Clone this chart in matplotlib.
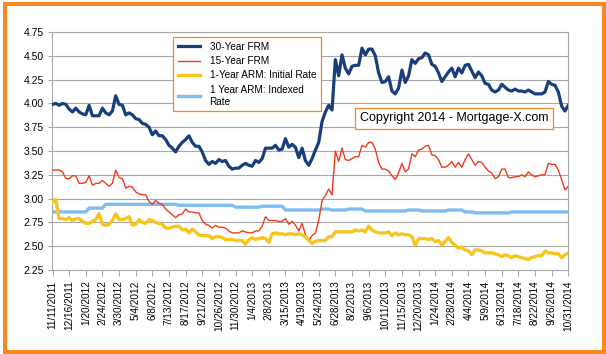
import numpy as np
import pandas as pd
import matplotlib
matplotlib.use('Agg')
import matplotlib.pyplot as plt
from matplotlib.patches import Rectangle

plt.rcParams['font.family'] = ['Liberation Sans', 'DejaVu Sans']

# weekly survey dates (Fridays), 11/11/2011 .. 10/31/2014
dates = pd.date_range('2011-11-11', '2014-10-31', freq='7D')

frm30 = [3.99, 4.00, 3.98, 4.00, 3.99, 3.94, 3.91, 3.95, 3.91, 3.89,
         3.88, 3.98, 3.87, 3.87, 3.87, 3.95, 3.90, 3.88, 3.92, 4.08,
         3.99, 3.98, 3.88, 3.90, 3.88, 3.84, 3.83, 3.79, 3.78, 3.75,
         3.67, 3.71, 3.66, 3.66, 3.62, 3.56, 3.53, 3.49, 3.55, 3.59,
         3.62, 3.66, 3.59, 3.55, 3.55, 3.49, 3.40, 3.36, 3.39, 3.37,
         3.41, 3.39, 3.40, 3.34, 3.31, 3.32, 3.32, 3.35, 3.37, 3.35,
         3.34, 3.40, 3.38, 3.42, 3.53, 3.53, 3.53, 3.56, 3.51, 3.52,
         3.63, 3.54, 3.57, 3.54, 3.43, 3.53, 3.40, 3.35, 3.42, 3.51,
         3.59, 3.81, 3.91, 3.98, 3.93, 4.46, 4.29, 4.51, 4.37, 4.31,
         4.39, 4.40, 4.40, 4.58, 4.51, 4.57, 4.57, 4.50, 4.32, 4.22,
         4.23, 4.28, 4.13, 4.10, 4.16, 4.35, 4.22, 4.29, 4.46, 4.42,
         4.47, 4.48, 4.53, 4.51, 4.41, 4.39, 4.32, 4.23, 4.28, 4.33,
         4.37, 4.28, 4.37, 4.32, 4.40, 4.41, 4.34, 4.27, 4.33, 4.29,
         4.21, 4.20, 4.14, 4.12, 4.14, 4.20, 4.17, 4.14, 4.13, 4.15,
         4.13, 4.13, 4.12, 4.14, 4.12, 4.10, 4.10, 4.10, 4.12, 4.23,
         4.20, 4.19, 4.12, 3.97, 3.92, 3.98]

frm15 = [3.30, 3.30, 3.30, 3.28, 3.21, 3.21, 3.24, 3.24, 3.16, 3.16,
         3.17, 3.24, 3.14, 3.16, 3.16, 3.19, 3.16, 3.13, 3.16, 3.30,
         3.22, 3.21, 3.11, 3.13, 3.12, 3.07, 3.05, 3.04, 3.04, 2.97,
         2.94, 2.98, 2.95, 2.94, 2.89, 2.86, 2.83, 2.80, 2.83, 2.84,
         2.89, 2.86, 2.86, 2.85, 2.85, 2.77, 2.73, 2.72, 2.69, 2.72,
         2.70, 2.70, 2.69, 2.66, 2.64, 2.64, 2.64, 2.66, 2.65, 2.64,
         2.64, 2.66, 2.66, 2.71, 2.81, 2.77, 2.77, 2.77, 2.76, 2.76,
         2.79, 2.73, 2.76, 2.72, 2.66, 2.74, 2.62, 2.56, 2.61, 2.64,
         2.77, 2.98, 3.03, 3.10, 3.04, 3.50, 3.39, 3.53, 3.41, 3.40,
         3.42, 3.44, 3.44, 3.56, 3.54, 3.59, 3.59, 3.52, 3.38, 3.31,
         3.31, 3.29, 3.24, 3.20, 3.27, 3.37, 3.28, 3.31, 3.47, 3.44,
         3.51, 3.52, 3.55, 3.56, 3.46, 3.45, 3.41, 3.33, 3.33, 3.35,
         3.39, 3.33, 3.38, 3.33, 3.41, 3.47, 3.41, 3.35, 3.39, 3.38,
         3.33, 3.29, 3.27, 3.21, 3.23, 3.31, 3.31, 3.22, 3.22, 3.23,
         3.23, 3.25, 3.23, 3.28, 3.25, 3.23, 3.24, 3.25, 3.25, 3.37,
         3.36, 3.36, 3.30, 3.20, 3.09, 3.13]

arm_initial = [2.96, 2.99, 2.79, 2.79, 2.78, 2.80, 2.77, 2.79, 2.79, 2.76,
               2.74, 2.74, 2.76, 2.78, 2.84, 2.73, 2.72, 2.73, 2.77, 2.84,
               2.78, 2.78, 2.79, 2.81, 2.72, 2.73, 2.78, 2.75, 2.74, 2.78,
               2.77, 2.75, 2.74, 2.73, 2.69, 2.69, 2.70, 2.71, 2.71, 2.67,
               2.68, 2.64, 2.68, 2.65, 2.62, 2.61, 2.61, 2.61, 2.58, 2.60,
               2.60, 2.59, 2.57, 2.57, 2.57, 2.56, 2.56, 2.56, 2.52, 2.57,
               2.59, 2.57, 2.58, 2.59, 2.58, 2.54, 2.63, 2.64, 2.63, 2.63,
               2.62, 2.63, 2.63, 2.62, 2.63, 2.62, 2.60, 2.56, 2.53, 2.55,
               2.56, 2.56, 2.56, 2.60, 2.60, 2.65, 2.65, 2.65, 2.65, 2.65,
               2.65, 2.67, 2.66, 2.67, 2.65, 2.71, 2.67, 2.65, 2.64, 2.64,
               2.64, 2.65, 2.61, 2.64, 2.62, 2.63, 2.62, 2.62, 2.60, 2.51,
               2.58, 2.58, 2.58, 2.57, 2.58, 2.55, 2.56, 2.51, 2.55, 2.59,
               2.54, 2.51, 2.48, 2.49, 2.46, 2.45, 2.41, 2.46, 2.46, 2.45,
               2.43, 2.43, 2.43, 2.42, 2.41, 2.39, 2.41, 2.40, 2.38, 2.40,
               2.39, 2.38, 2.37, 2.36, 2.38, 2.39, 2.40, 2.40, 2.45, 2.43,
               2.43, 2.42, 2.42, 2.38, 2.41, 2.43]

arm_indexed = [2.86, 2.86, 2.86, 2.86, 2.86, 2.86, 2.86, 2.86, 2.86, 2.86,
               2.86, 2.90, 2.90, 2.90, 2.90, 2.90, 2.94, 2.94, 2.94, 2.94,
               2.94, 2.94, 2.94, 2.94, 2.94, 2.94, 2.94, 2.94, 2.94, 2.94,
               2.94, 2.94, 2.94, 2.94, 2.94, 2.94, 2.94, 2.94, 2.93, 2.93,
               2.93, 2.93, 2.93, 2.93, 2.93, 2.93, 2.93, 2.93, 2.93, 2.93,
               2.93, 2.93, 2.93, 2.93, 2.93, 2.91, 2.91, 2.91, 2.91, 2.91,
               2.91, 2.91, 2.91, 2.92, 2.92, 2.92, 2.92, 2.92, 2.92, 2.92,
               2.88, 2.88, 2.88, 2.88, 2.88, 2.88, 2.88, 2.88, 2.88, 2.88,
               2.88, 2.89, 2.89, 2.89, 2.88, 2.88, 2.88, 2.88, 2.88, 2.89,
               2.89, 2.89, 2.89, 2.89, 2.87, 2.87, 2.87, 2.87, 2.87, 2.87,
               2.87, 2.87, 2.87, 2.87, 2.87, 2.87, 2.87, 2.88, 2.88, 2.88,
               2.88, 2.87, 2.87, 2.87, 2.87, 2.87, 2.87, 2.87, 2.87, 2.88,
               2.88, 2.88, 2.88, 2.88, 2.86, 2.86, 2.86, 2.85, 2.85, 2.85,
               2.85, 2.85, 2.85, 2.85, 2.85, 2.85, 2.85, 2.85, 2.86, 2.86,
               2.86, 2.86, 2.86, 2.86, 2.86, 2.86, 2.86, 2.86, 2.86, 2.86,
               2.86, 2.86, 2.86, 2.86, 2.86, 2.86]

tick_labels = ['11/11/2011', '12/16/2011', '1/20/2012', '2/24/2012', '3/30/2012',
               '5/4/2012', '6/8/2012', '7/13/2012', '8/17/2012', '9/21/2012',
               '10/26/2012', '11/30/2012', '1/4/2013', '2/8/2013', '3/15/2013',
               '4/19/2013', '5/24/2013', '6/28/2013', '8/2/2013', '9/6/2013',
               '10/11/2013', '11/15/2013', '12/20/2013', '1/24/2014', '2/28/2014',
               '4/4/2014', '5/9/2014', '6/13/2014', '7/18/2014', '8/22/2014',
               '9/26/2014', '10/31/2014']

fig = plt.figure(figsize=(6.06, 3.54), dpi=100)
ax = fig.add_axes([52.5 / 606, 1 - 270 / 354, 515.8 / 606, 238 / 354])

ax.plot(dates, arm_indexed, color='#7DBDF3', lw=2.4, zorder=2, label='1 Year ARM: Indexed\nRate')
ax.plot(dates, frm30, color='#183F7C', lw=2.3, zorder=3, label='30-Year FRM')
ax.plot(dates, frm15, color='#F03A1C', lw=1.0, zorder=3, label='15-Year FRM')
ax.plot(dates, arm_initial, color='#F8C51C', lw=2.4, zorder=4, label='1-Year ARM: Initial Rate')

ax.set_xlim(dates[0], dates[-1])
ax.set_ylim(2.25, 4.75)
ax.set_yticks(np.arange(2.25, 4.76, 0.25))
ax.set_yticklabels(['%.2f' % v for v in np.arange(2.25, 4.76, 0.25)], fontsize=7.5)
ax.set_xticks(dates[::5])
ax.set_xticklabels(tick_labels, rotation=90, fontsize=7.2, va='top')

ax.grid(axis='y', color='#A8A8A8', lw=0.8)
ax.set_axisbelow(True)
for s in ax.spines.values():
    s.set_color('#A8A8A8')
    s.set_linewidth(0.8)
ax.tick_params(axis='x', length=4.5, color='#A8A8A8', pad=3)
ax.tick_params(axis='y', length=3, color='#A8A8A8', pad=3)

# legend in original order
h, l = ax.get_legend_handles_labels()
order = [1, 2, 3, 0]
leg = ax.legend([h[i] for i in order], [l[i] for i in order],
                loc='upper left', bbox_to_anchor=(173 / 606, 1 - 37 / 354),
                bbox_transform=fig.transFigure, borderaxespad=0,
                fancybox=False, edgecolor='#F08A24', framealpha=1,
                fontsize=7.2, handlelength=2.2, handletextpad=1.0,
                labelspacing=0.45, borderpad=0.45)
leg.get_frame().set_linewidth(0.9)

fig.text(454 / 606, 1 - 118.5 / 354, 'Copyright 2014 - Mortgage-X.com', fontsize=9,
         ha='center', va='center',
         bbox=dict(boxstyle='square,pad=0.35', fc='white', ec='#F08A24', lw=0.9))

fig.add_artist(Rectangle((4.7 / 606, 2.0 / 354), 599.3 / 606, 348.5 / 354,
                         transform=fig.transFigure, fill=False,
                         ec='#F7891F', lw=2.9))

fig.savefig('out.png', dpi=100)
